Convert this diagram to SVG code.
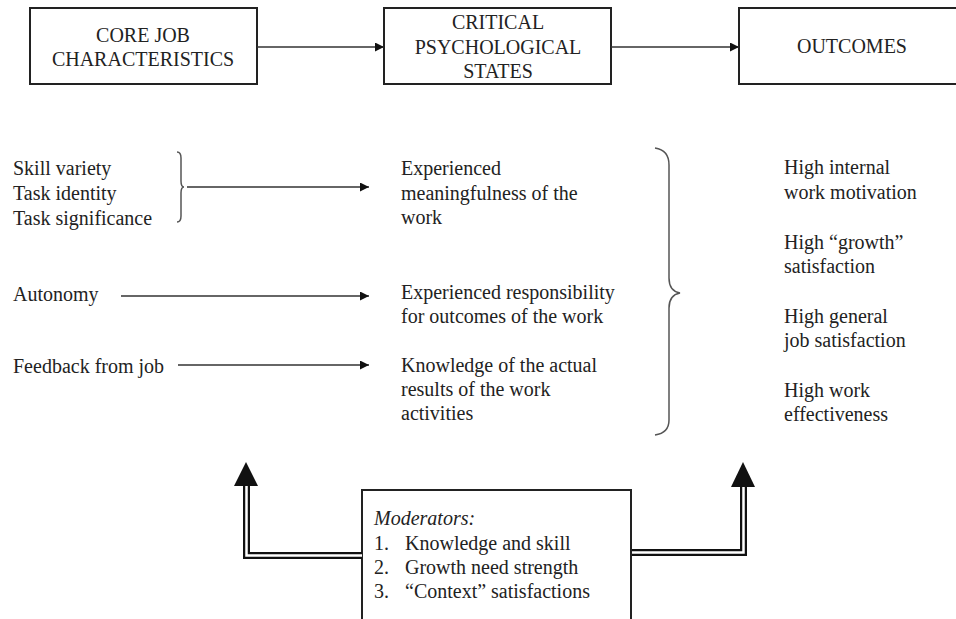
<svg xmlns="http://www.w3.org/2000/svg" width="956" height="619" viewBox="0 0 956 619">
<defs>
<style>
text{font-family:'Liberation Serif','DejaVu Serif',serif;font-size:20px;fill:#222}
.c{text-anchor:middle}
.box{fill:#fff;stroke:#222;stroke-width:2}
.ln{fill:none;stroke:#333;stroke-width:1.5}
.br{fill:none;stroke:#555;stroke-width:1.5}
.dbo{fill:none;stroke:#111;stroke-width:7}
.dbi{fill:none;stroke:#fff;stroke-width:2.5}
</style>
<marker id="ah" viewBox="0 0 10 10" refX="10" refY="5" markerWidth="10" markerHeight="9" markerUnits="userSpaceOnUse" orient="auto">
<path d="M0,0 L10,5 L0,10 Z" fill="#111"/>
</marker>
</defs>

<g id="core">
<rect class="box" x="30" y="8" width="227" height="76"/>
<text class="c" x="143" y="42">CORE JOB</text>
<text class="c" x="143" y="66">CHARACTERISTICS</text>
</g>
<g id="critical">
<rect class="box" x="384" y="8" width="227" height="76"/>
<text class="c" x="498" y="29">CRITICAL</text>
<text class="c" x="498" y="54">PSYCHOLOGICAL</text>
<text class="c" x="498" y="78">STATES</text>
</g>
<g id="outcomes">
<rect class="box" x="739" y="8" width="230" height="76"/>
<text class="c" x="852" y="53">OUTCOMES</text>
</g>

<g id="core-items">
<text x="13" y="175">Skill variety</text>
<text x="13" y="200">Task identity</text>
<text x="13" y="225">Task significance</text>
<text x="13" y="301">Autonomy</text>
<text x="13" y="373">Feedback from job</text>
</g>

<g id="states">
<text x="401" y="175">Experienced</text>
<text x="401" y="200">meaningfulness of the</text>
<text x="401" y="224">work</text>
<text x="401" y="299">Experienced responsibility</text>
<text x="401" y="323">for outcomes of the work</text>
<text x="401" y="372">Knowledge of the actual</text>
<text x="401" y="396">results of the work</text>
<text x="401" y="420">activities</text>
</g>

<g id="outcome-items">
<text x="784" y="174">High internal</text>
<text x="784" y="199">work motivation</text>
<text x="784" y="249">High “growth”</text>
<text x="784" y="273">satisfaction</text>
<text x="784" y="323">High general</text>
<text x="784" y="347">job satisfaction</text>
<text x="784" y="397">High work</text>
<text x="784" y="421">effectiveness</text>
</g>

<g id="moderators">
<rect class="box" x="362" y="490" width="269" height="140"/>
<text x="374" y="525" font-style="italic">Moderators:</text>
<text x="374" y="550">1.</text><text x="405" y="550">Knowledge and skill</text>
<text x="374" y="574">2.</text><text x="405" y="574">Growth need strength</text>
<text x="374" y="598">3.</text><text x="405" y="598">“Context” satisfactions</text>
</g>

<g id="connectors">
<line class="ln" x1="257" y1="47" x2="384" y2="47" marker-end="url(#ah)"/>
<line class="ln" x1="611" y1="47" x2="739" y2="47" marker-end="url(#ah)"/>
<line class="ln" x1="187" y1="187" x2="369" y2="187" marker-end="url(#ah)"/>
<line class="ln" x1="121" y1="296" x2="369" y2="296" marker-end="url(#ah)"/>
<line class="ln" x1="178" y1="365" x2="369" y2="365" marker-end="url(#ah)"/>
<path class="br" d="M177,152 Q181,152 181,158 V181 Q181,187 184,187 Q181,187 181,193 V216 Q181,222 177,222"/>
<path class="br" d="M655,148 Q669,150 669,165 V278 Q669,291 680,293 Q669,295 669,308 V420 Q669,433 655,435"/>
<path class="dbo" d="M362,555.5 H246.5 V484"/>
<path class="dbi" d="M362,555.5 H246.5 V484"/>
<polygon points="234,486 258,486 246,462" fill="#111"/>
<path class="dbo" d="M632,552.5 H743.5 V484"/>
<path class="dbi" d="M632,552.5 H743.5 V484"/>
<polygon points="731,487 755,487 743,462" fill="#111"/>
</g>
</svg>
